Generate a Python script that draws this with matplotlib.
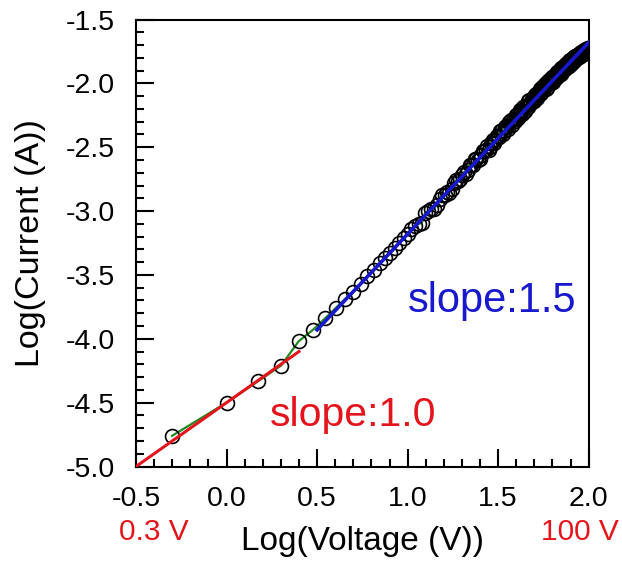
import numpy as np
import matplotlib
matplotlib.use("Agg")
import matplotlib.pyplot as plt
from matplotlib.ticker import MultipleLocator, FormatStrFormatter

plt.rcParams['font.family'] = ['Liberation Sans', 'DejaVu Sans']

voltage = [0.5, 1.0, 1.5, 2.0, 2.5, 3.0, 3.5, 4.0, 4.5, 5.0,
           5.5, 6.0, 6.5, 7.0, 7.5, 8.0, 8.5, 9.0, 9.5, 10.0,
           11, 12, 13, 14, 15, 16, 17, 18, 19, 20,
           21, 22, 23, 24, 25, 26, 27, 28, 29, 30,
           31, 32, 33, 34, 35, 36, 37, 38, 39, 40,
           41, 42, 43, 44, 45, 46, 47, 48, 49, 50,
           51, 52, 53, 54, 55, 56, 57, 58, 59, 60,
           61, 62, 63, 64, 65, 66, 67, 68, 69, 70,
           71, 72, 73, 74, 75, 76, 77, 78, 79, 80,
           81, 82, 83, 84, 85, 86, 87, 88, 89, 90,
           91, 92, 93, 94, 95, 96, 97, 98, 99, 100]
log_current = [-4.76, -4.50, -4.33, -4.21, -4.02, -3.93, -3.84, -3.76, -3.69, -3.63,
               -3.57, -3.51, -3.46, -3.41, -3.37, -3.33, -3.29, -3.25, -3.21, -3.18,
               -3.118, -3.091, -2.999, -2.981, -2.906, -2.874, -2.859, -2.777, -2.762, -2.719,
               -2.707, -2.636, -2.638, -2.590, -2.593, -2.528, -2.523, -2.519, -2.466, -2.464,
               -2.413, -2.422, -2.362, -2.373, -2.334, -2.356, -2.288, -2.290, -2.293, -2.247,
               -2.251, -2.205, -2.240, -2.185, -2.180, -2.186, -2.132, -2.148, -2.115, -2.142,
               -2.084, -2.091, -2.064, -2.081, -2.029, -2.048, -2.021, -2.045, -1.989, -1.998,
               -1.982, -2.001, -1.951, -1.961, -1.936, -1.961, -1.911, -1.926, -1.902, -1.927,
               -1.878, -1.894, -1.865, -1.891, -1.847, -1.859, -1.835, -1.862, -1.819, -1.830,
               -1.807, -1.829, -1.796, -1.809, -1.786, -1.803, -1.776, -1.793, -1.766, -1.784,
               -1.757, -1.774, -1.747, -1.765, -1.739, -1.757, -1.730, -1.748, -1.722, -1.730]

# intermediate half-volt measurements (dense part of the sweep)
voltage_half = [10.5, 11.5, 12.5, 13.5, 14.5, 15.5, 16.5, 17.5, 18.5, 19.5,
                20.5, 21.5, 22.5, 23.5, 24.5, 25.5, 26.5, 27.5, 28.5, 29.5,
                30.5, 31.5, 32.5, 33.5, 34.5, 35.5, 36.5, 37.5, 38.5, 39.5,
                40.5, 41.5, 42.5, 43.5, 44.5, 45.5, 46.5, 47.5, 48.5, 49.5,
                50.5, 51.5, 52.5, 53.5, 54.5, 55.5, 56.5, 57.5, 58.5, 59.5,
                60.5, 61.5, 62.5, 63.5, 64.5, 65.5, 66.5, 67.5, 68.5, 69.5,
                70.5, 71.5, 72.5, 73.5, 74.5, 75.5, 76.5, 77.5, 78.5, 79.5,
                80.5, 81.5, 82.5, 83.5, 84.5, 85.5, 86.5, 87.5, 88.5, 89.5,
                90.5, 91.5, 92.5, 93.5, 94.5, 95.5, 96.5, 97.5, 98.5, 99.5]
log_current_half = [-3.139, -3.100, -3.015, -2.985, -2.949, -2.875, -2.854, -2.826, -2.760, -2.746,
                    -2.693, -2.682, -2.642, -2.594, -2.597, -2.561, -2.526, -2.491, -2.498, -2.445,
                    -2.444, -2.413, -2.372, -2.393, -2.344, -2.345, -2.302, -2.324, -2.277, -2.245,
                    -2.269, -2.223, -2.228, -2.188, -2.213, -2.168, -2.139, -2.165, -2.122, -2.129,
                    -2.091, -2.118, -2.075, -2.048, -2.075, -2.034, -2.042, -2.006, -2.035, -1.994,
                    -1.973, -1.997, -1.956, -1.986, -1.946, -1.951, -1.916, -1.946, -1.907, -1.912,
                    -1.878, -1.909, -1.870, -1.876, -1.847, -1.873, -1.840, -1.846, -1.818, -1.845,
                    -1.811, -1.818, -1.795, -1.818, -1.785, -1.797, -1.780, -1.792, -1.770, -1.788,
                    -1.760, -1.778, -1.751, -1.769, -1.742, -1.760, -1.733, -1.747, -1.725, -1.733]

# linear fits (endpoints in log-log coordinates)
fit_low_x = [-0.5, 0.40]
fit_low_y = [-5.00, -4.10]
fit_high_x = [0.50, 2.00]
fit_high_y = [-3.93, -1.68]

slope_low_label = "slope:1.0"
slope_high_label = "slope:1.5"
v_min_label = "0.3 V"
v_max_label = "100 V"

RED = '#e3141b'
BLUE = '#1818cc'
GREEN = '#1f8a1f'

fig = plt.figure(figsize=(6.22, 5.63), dpi=100)
ax = fig.add_axes([136 / 622, 1 - 466.5 / 563, (588.7 - 136) / 622, (466.5 - 19.5) / 563])

v_all = np.array(voltage + voltage_half)
i_all = np.array(log_current + log_current_half)
order = np.argsort(v_all)
log_v = np.log10(v_all[order])
log_i = i_all[order]

ax.plot(log_v, log_i, color=GREEN, lw=1.6, zorder=2)
ax.plot(log_v, log_i, linestyle='none', marker='o', markersize=10,
        markerfacecolor='none', markeredgecolor='black', markeredgewidth=1.2, zorder=3)
ax.plot(fit_low_x, fit_low_y, color=RED, lw=2.2, zorder=4)
ax.plot(fit_high_x, fit_high_y, color=BLUE, lw=2.6, zorder=4)

ax.text(1.0, -3.79, slope_high_label, color=BLUE, fontsize=30, ha='left', va='baseline')
ax.text(0.237, -4.68, slope_low_label, color=RED, fontsize=29.5, ha='left', va='baseline')

ax.set_xlim(-0.5, 2.0)
ax.set_ylim(-5.0, -1.5)
ax.xaxis.set_major_locator(MultipleLocator(0.5))
ax.xaxis.set_minor_locator(MultipleLocator(0.1))
ax.yaxis.set_major_locator(MultipleLocator(0.5))
ax.yaxis.set_minor_locator(MultipleLocator(0.1))
ax.xaxis.set_major_formatter(FormatStrFormatter('%.1f'))
ax.yaxis.set_major_formatter(FormatStrFormatter('%.1f'))

ax.tick_params(which='both', direction='in', top=False, right=False, width=1.5, labelsize=20.5)
ax.tick_params(which='major', length=13)
ax.tick_params(which='minor', length=6)
ax.tick_params(axis='x', which='major', pad=14)
ax.tick_params(axis='y', which='major', pad=15)
for s in ax.spines.values():
    s.set_linewidth(1.5)

ax.set_xlabel("Log(Voltage (V))", fontsize=24, labelpad=10)
ax.set_ylabel("Log(Current (A))", fontsize=24.5, labelpad=14)

fig.text(154 / 622, 1 - 532 / 563, v_min_label, color=RED, fontsize=21.5, ha='center', va='center')
fig.text(580 / 622, 1 - 532 / 563, v_max_label, color=RED, fontsize=21.5, ha='center', va='center')

fig.savefig("out.png", dpi=100)
